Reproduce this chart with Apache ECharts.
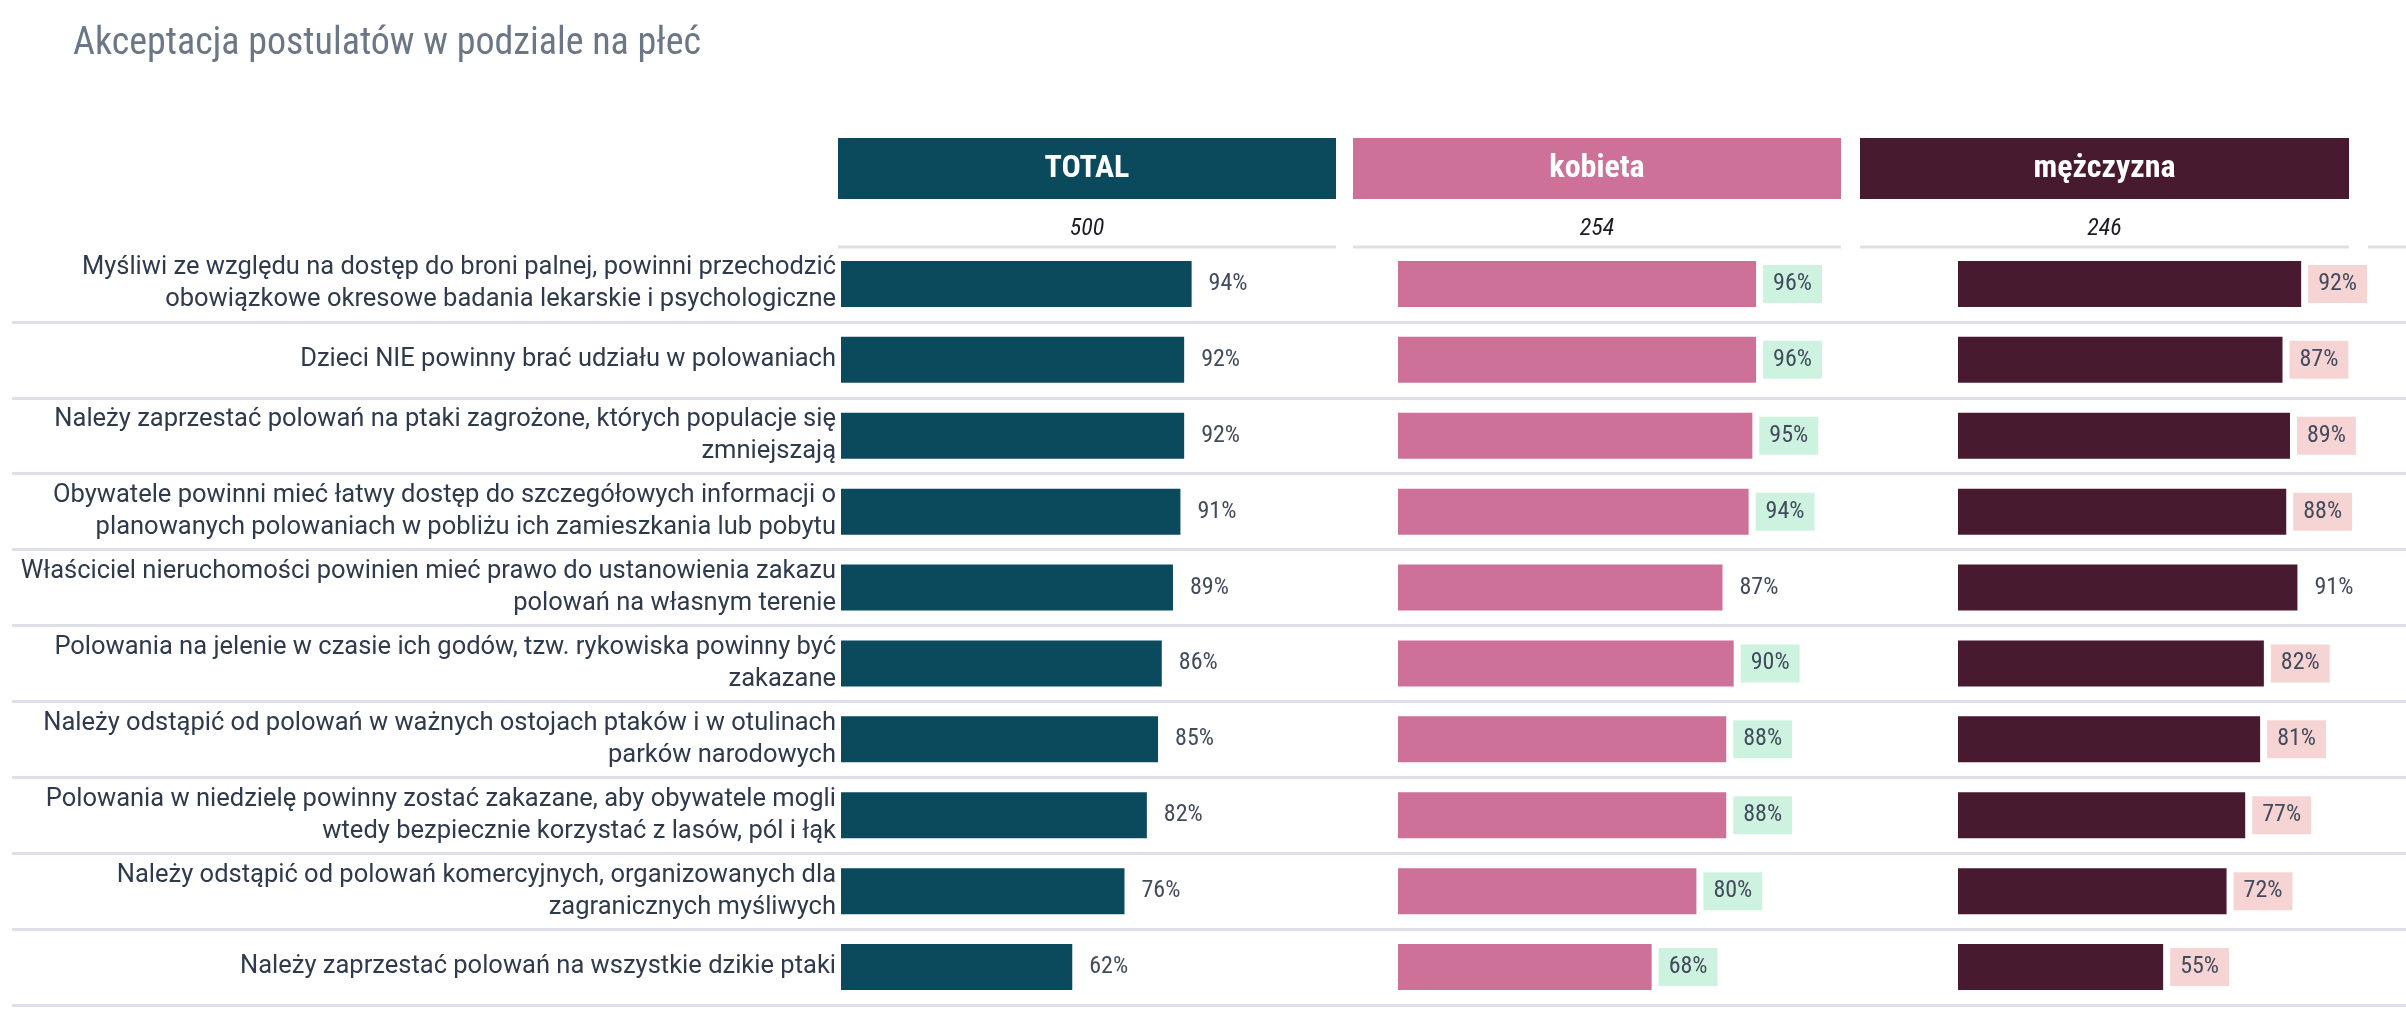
<!DOCTYPE html>
<html><head><meta charset="utf-8">
<script src="https://cdn.jsdelivr.net/npm/echarts@6/dist/echarts.min.js"></script>
<style>html,body{margin:0;padding:0;background:#fff;}#c{width:2406px;height:1024px;}</style>
</head><body><div id="c"></div>
<script>
const categories = [
  "Myśliwi ze względu na dostęp do broni palnej, powinni przechodzić\nobowiązkowe okresowe badania lekarskie i psychologiczne",
  "Dzieci NIE powinny brać udziału w polowaniach",
  "Należy zaprzestać polowań na ptaki zagrożone, których populacje się\nzmniejszają",
  "Obywatele powinni mieć łatwy dostęp do szczegółowych informacji o\nplanowanych polowaniach w pobliżu ich zamieszkania lub pobytu",
  "Właściciel nieruchomości powinien mieć prawo do ustanowienia zakazu\npolowań na własnym terenie",
  "Polowania na jelenie w czasie ich godów, tzw. rykowiska powinny być\nzakazane",
  "Należy odstąpić od polowań w ważnych ostojach ptaków i w otulinach\nparków narodowych",
  "Polowania w niedzielę powinny zostać zakazane, aby obywatele mogli\nwtedy bezpiecznie korzystać z lasów, pól i łąk",
  "Należy odstąpić od polowań komercyjnych, organizowanych dla\nzagranicznych myśliwych",
  "Należy zaprzestać polowań na wszystkie dzikie ptaki"
];
const columns = ["TOTAL", "kobieta", "mężczyzna"];
const baseN = [500, 254, 246];
const totalValues = [94, 92, 92, 91, 89, 86, 85, 82, 76, 62];
const womenValues = [96, 96, 95, 94, 87, 90, 88, 88, 80, 68];
const menValues   = [92, 87, 89, 88, 91, 82, 81, 77, 72, 55];
// significance vs total: 1 = highlighted (women higher / men lower), 0 = not
const womenSig = [1, 1, 1, 1, 0, 1, 1, 1, 1, 1];
const menSig   = [1, 1, 1, 1, 0, 1, 1, 1, 1, 1];

const FONT_C = "'Roboto Condensed','Liberation Sans Narrow','DejaVu Sans Condensed','Roboto',sans-serif";
const FONT_R = "'Roboto','Noto Sans',sans-serif";
const colColors = ['#0b4a5c', '#cd7199', '#481a2f'];
const sigColors = [null, '#cdf2df', '#f6d4d4'];
const boxX = [838, 1353, 1860];
const boxW = [498, 488, 489];
const barLeft = [841, 1398, 1958];
const barScale = 373; // px for 100%
const TOP = 246, HEIGHT = 759;

const seriesVals = [totalValues, womenValues, menValues];
const sigs = [null, womenSig, menSig];

const grids = [], xAxes = [], yAxes = [], series = [];
// separator grid (full width)
grids.push({left: 12, top: TOP, width: 2394, height: HEIGHT});
xAxes.push({gridIndex: 0, type: 'value', min: 0, max: 100, show: false});
yAxes.push({gridIndex: 0, type: 'category', data: categories, inverse: true,
  axisLine: {show: false}, axisTick: {show: false}, axisLabel: {show: false},
  splitLine: {show: true, interval: function (i) { return i > 0; }, lineStyle: {color: '#dde1e7', width: 3}}});

for (let c = 0; c < 3; c++) {
  const gi = c + 1;
  grids.push({left: barLeft[c], top: TOP, width: barScale, height: HEIGHT});
  xAxes.push({gridIndex: gi, type: 'value', min: 0, max: 100, show: false});
  yAxes.push({gridIndex: gi, type: 'category', data: categories, inverse: true,
    axisLine: {show: false}, axisTick: {show: false}, splitLine: {show: false},
    axisLabel: c === 0 ? {show: true, margin: 5, fontFamily: FONT_R, fontSize: 25.5, lineHeight: 32, color: '#2f3a4c', align: 'right'} : {show: false}});
  const data = seriesVals[c].map((v, i) => {
    const item = {value: v};
    if (c > 0) {
      item.label = {backgroundColor: sigs[c][i] ? sigColors[c] : 'transparent'};
    }
    return item;
  });
  series.push({
    type: 'bar', xAxisIndex: gi, yAxisIndex: gi, data: data, barWidth: 46,
    itemStyle: {color: colColors[c]},
    label: {show: true, position: 'right', distance: 7,
      formatter: '{c}%', fontFamily: FONT_C, fontSize: 24, lineHeight: 24, color: '#424b5c',
      padding: [7, 10, 7, 10]},
    silent: true, animation: false
  });
}

const graphics = [];
for (let c = 0; c < 3; c++) {
  graphics.push({type: 'rect', shape: {x: boxX[c], y: 138, width: boxW[c], height: 61}, style: {fill: colColors[c]}});
  graphics.push({type: 'text', x: boxX[c] + boxW[c] / 2, y: 169, style: {text: columns[c], fill: '#fff', font: 'bold 32px ' + FONT_C, textAlign: 'center', textVerticalAlign: 'middle'}});
  graphics.push({type: 'text', x: boxX[c] + boxW[c] / 2, y: 229, style: {text: String(baseN[c]), fill: '#1c1c28', font: 'italic 24px ' + FONT_C, textAlign: 'center', textVerticalAlign: 'middle'}});
  graphics.push({type: 'line', shape: {x1: boxX[c], y1: 247, x2: boxX[c] + boxW[c], y2: 247}, style: {stroke: '#dde1e7', lineWidth: 3}});
}
graphics.push({type: 'line', shape: {x1: 2368, y1: 247, x2: 2406, y2: 247}, style: {stroke: '#dde1e7', lineWidth: 3}});

const chart = echarts.init(document.getElementById('c'), null, {renderer: 'canvas'});
chart.setOption({
  backgroundColor: '#ffffff',
  animation: false,
  title: {text: 'Akceptacja postulatów w podziale na płeć', left: 68, top: 20,
    textStyle: {fontFamily: FONT_C, fontSize: 38, fontWeight: 'normal', color: '#6b7786'}},
  grid: grids, xAxis: xAxes, yAxis: yAxes, series: series,
  graphic: graphics
});
</script></body></html>
